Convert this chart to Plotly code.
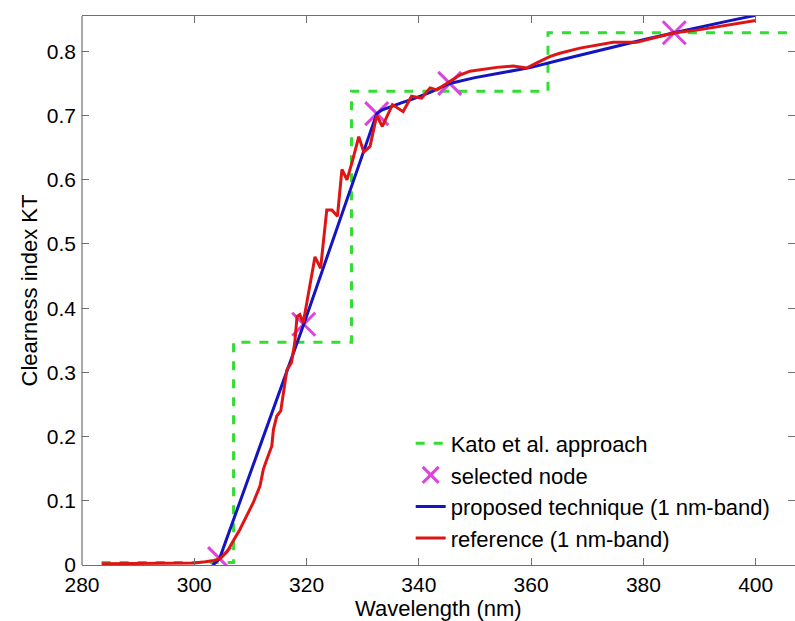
import plotly.graph_objects as go

# Kato et al. band approach: piecewise-constant clearness index
kato_wl = [283.5, 307.0, 328.0, 363.0, 410.0]
kato_kt = [0.004, 0.347, 0.738, 0.829, 0.829]

# Nodes selected by the proposed technique
node_wl = [304.5, 319.5, 332.5, 345.5, 385.5]
node_kt = [0.010, 0.375, 0.703, 0.750, 0.829]

# Proposed technique (1 nm-band)
prop_wl = [303.3, 304.5, 319.5, 332.5, 333.5, 335.0, 337.0, 339.0, 342.0,
           345.5, 350.0, 355.0, 360.0, 365.0, 370.0, 375.0, 380.0, 385.5,
           390.0, 395.0, 400.0]
prop_kt = [0.000, 0.010, 0.375, 0.703, 0.709, 0.714, 0.720, 0.726, 0.736,
           0.750, 0.759, 0.767, 0.775, 0.786, 0.797, 0.807, 0.818, 0.829,
           0.837, 0.847, 0.856]

# Reference (1 nm-band)
ref_wl = [283.5, 290.0, 296.0, 300.0, 302.0, 303.5, 304.6, 305.8, 306.9,
          308.1, 309.3, 310.5, 311.7, 312.3, 312.9, 313.8, 314.1, 314.7,
          315.4, 315.9, 316.5, 317.3, 317.9, 318.3, 318.8, 319.4, 320.5,
          321.5, 322.5, 323.0, 323.6, 324.5, 325.5, 326.3, 327.2, 328.2,
          329.3, 330.2, 331.3, 332.5, 333.5, 335.3, 337.2, 338.7, 340.5,
          342.0, 343.2, 345.5, 347.3, 349.1, 350.9, 353.9, 356.8, 359.2,
          361.0, 363.4, 365.1, 368.7, 374.6, 378.8, 382.3, 385.6, 389.5,
          395.4, 400.0]
ref_kt = [0.002, 0.002, 0.002, 0.003, 0.005, 0.007, 0.010, 0.020, 0.037,
          0.055, 0.076, 0.097, 0.123, 0.149, 0.164, 0.185, 0.211, 0.232,
          0.240, 0.268, 0.304, 0.315, 0.346, 0.387, 0.390, 0.377, 0.430,
          0.480, 0.462, 0.507, 0.553, 0.553, 0.543, 0.616, 0.600, 0.630,
          0.667, 0.643, 0.652, 0.700, 0.683, 0.717, 0.706, 0.730, 0.727,
          0.743, 0.740, 0.753, 0.763, 0.769, 0.771, 0.775, 0.777, 0.774,
          0.782, 0.792, 0.797, 0.805, 0.814, 0.814, 0.822, 0.829, 0.833,
          0.841, 0.848]

x_ticks = [280, 300, 320, 340, 360, 380, 400]
y_ticks = [0, 0.1, 0.2, 0.3, 0.4, 0.5, 0.6, 0.7, 0.8]
y_labels = ["0", "0.1", "0.2", "0.3", "0.4", "0.5", "0.6", "0.7", "0.8"]

FONT = "Liberation Sans, Arial, sans-serif"
AXIS_GREY = "#6e6e6e"

fig = go.Figure()
fig.add_trace(go.Scatter(
    x=kato_wl, y=kato_kt, mode="lines", line_shape="hv",
    name="Kato et al. approach",
    line=dict(color="#33dd33", width=3, dash="dash")))
fig.add_trace(go.Scatter(
    x=node_wl, y=node_kt, mode="markers", name="selected node",
    marker=dict(symbol="x-thin", size=23, color="#dd44dd",
                line=dict(color="#dd44dd", width=3))))
fig.add_trace(go.Scatter(
    x=prop_wl, y=prop_kt, mode="lines",
    name="proposed technique (1 nm-band)",
    line=dict(color="#1414c0", width=3)))
fig.add_trace(go.Scatter(
    x=ref_wl, y=ref_kt, mode="lines", name="reference (1 nm-band)",
    line=dict(color="#dd1515", width=3)))

# left spine drawn separately so the right-hand side only carries ticks
fig.add_shape(type="line", xref="paper", yref="paper", x0=0, x1=0, y0=0, y1=1,
              line=dict(color=AXIS_GREY, width=1.2))

# x-axis title placed below the tick labels
fig.add_annotation(text="Wavelength (nm)", xref="paper", yref="paper",
                   x=0.5, y=-0.080, xanchor="center", yanchor="middle",
                   showarrow=False, font=dict(family=FONT, size=22, color="black"))

fig.update_layout(
    width=795, height=621,
    margin=dict(l=82, r=0, t=16, b=56),
    paper_bgcolor="white", plot_bgcolor="white",
    font=dict(family=FONT, size=21, color="black"),
    showlegend=True,
    legend=dict(x=0.461, y=0.01, xanchor="left", yanchor="bottom",
                bgcolor="rgba(0,0,0,0)", borderwidth=0,
                font=dict(family=FONT, size=22, color="black"),
                tracegroupgap=0, itemwidth=30),
    xaxis=dict(range=[280, 407], tickvals=x_ticks,
               ticks="inside", ticklen=7, tickwidth=1, tickcolor=AXIS_GREY,
               showline=True, linecolor=AXIS_GREY, linewidth=1.2,
               mirror="ticks", showgrid=False, zeroline=False,
               ticklabelstandoff=1,
               tickfont=dict(family=FONT, size=21)),
    yaxis=dict(range=[0, 0.855], tickvals=y_ticks, ticktext=y_labels,
               ticks="inside", ticklen=7, tickwidth=1, tickcolor=AXIS_GREY,
               showline=False, mirror="ticks", showgrid=False,
               zeroline=False, ticklabelstandoff=5,
               tickfont=dict(family=FONT, size=21),
               title=dict(text="Clearness index KT", standoff=3,
                          font=dict(family=FONT, size=22))),
)

fig.write_html("out.html")
